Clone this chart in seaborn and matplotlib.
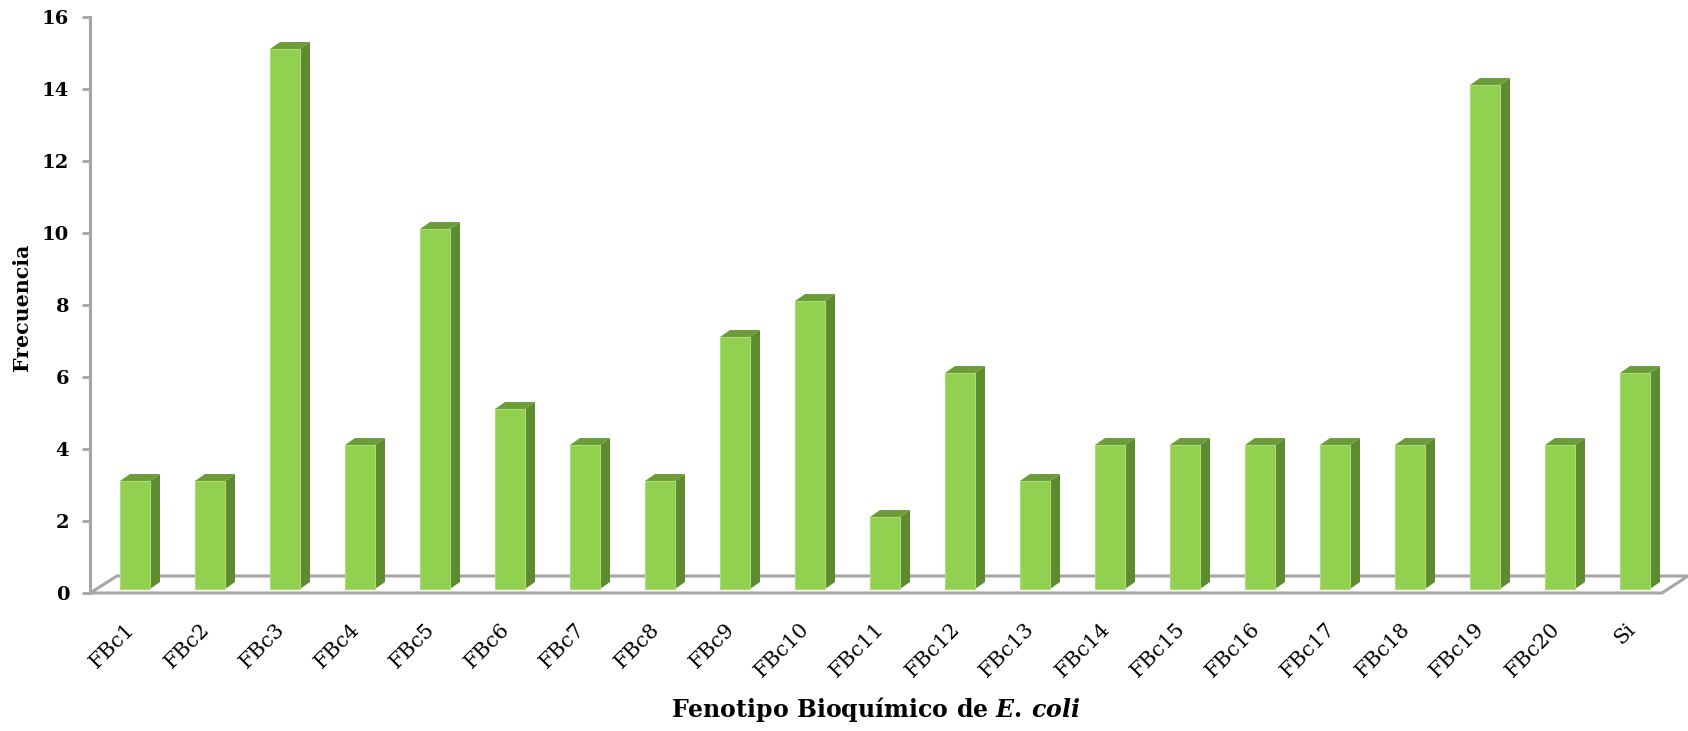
import numpy as np
import pandas as pd
import matplotlib
matplotlib.use("Agg")
import matplotlib.pyplot as plt
import seaborn as sns
from matplotlib.patches import Polygon
from matplotlib.transforms import ScaledTranslation

# Frequency of each biochemical phenotype
categories = ["FBc1", "FBc2", "FBc3", "FBc4", "FBc5", "FBc6", "FBc7", "FBc8",
              "FBc9", "FBc10", "FBc11", "FBc12", "FBc13", "FBc14", "FBc15",
              "FBc16", "FBc17", "FBc18", "FBc19", "FBc20", "Si"]
frecuencia = [3, 3, 15, 4, 10, 5, 4, 3, 7, 8, 2, 6, 3, 4, 4, 4, 4, 4, 14, 4, 6]
y_ticks = [0, 2, 4, 6, 8, 10, 12, 14, 16]

df = pd.DataFrame({"fenotipo": categories, "frecuencia": frecuencia})

sns.set_theme(style="white")
plt.rcParams["font.family"] = ["DejaVu Serif"]
plt.rcParams["text.color"] = "black"
plt.rcParams["mathtext.fontset"] = "custom"
plt.rcParams["mathtext.rm"] = "DejaVu Serif:bold"
plt.rcParams["mathtext.it"] = "DejaVu Serif:italic:bold"
plt.rcParams["mathtext.bf"] = "DejaVu Serif:bold"

W, H = 1688, 731
fig = plt.figure(figsize=(W / 100, H / 100), dpi=100)
ax = fig.add_axes([90 / W, 138 / H, 1572 / W, 576 / H])

FRONT = "#92D050"
SIDE = "#5E8B2F"
TOP = "#6C9C39"
GRID = "#A6A6A6"

bar_w = 0.4
sns.barplot(data=df, x="fenotipo", y="frecuencia", color=FRONT, width=bar_w,
            saturation=1, ax=ax, zorder=3, edgecolor="#A8DC74", linewidth=0.8)

ax.set_xlim(-0.6, 20.36)
ax.set_ylim(0, 16)

# depth of the pseudo-3D extrusion, in data units (10 px right, 7 px up)
dx = 10 / 75
dy = 7 / 36
lift = ScaledTranslation(0, 4 / 100, fig.dpi_scale_trans)

for p in ax.patches:
    p.set_transform(ax.transData + lift)
    x0 = p.get_x()
    x1 = x0 + p.get_width()
    h = p.get_height()
    side = Polygon([(x1, 0), (x1 + dx, dy), (x1 + dx, h + dy), (x1, h)],
                   closed=True, facecolor=SIDE, edgecolor="none",
                   transform=ax.transData + lift, zorder=2.9)
    top = Polygon([(x0, h), (x1, h), (x1 + dx, h + dy), (x0 + dx, h + dy)],
                  closed=True, facecolor=TOP, edgecolor="none",
                  transform=ax.transData + lift, zorder=2.9)
    ax.add_patch(side)
    ax.add_patch(top)

# floor of the chart
floor = Polygon([(0, 0), (27 / 1572, 17 / 576), (1598 / 1572, 17 / 576), (1, 0)],
                closed=True, facecolor="white", edgecolor=GRID, linewidth=2.2,
                transform=ax.transAxes, clip_on=False, zorder=1)
ax.add_patch(floor)

for s in ["top", "right", "bottom"]:
    ax.spines[s].set_visible(False)
ax.spines["left"].set_color(GRID)
ax.spines["left"].set_linewidth(2.2)

ax.set_yticks(y_ticks)
ax.set_yticklabels([str(v) for v in y_ticks], fontsize=14, fontweight="bold",
                   color="black")
ax.tick_params(axis="y", left=True, length=6, width=2, color=GRID, pad=9)
ax.tick_params(axis="x", bottom=False, length=0, pad=19)

ax.set_xticks(range(len(categories)))
ax.set_xticklabels(categories, rotation=45, ha="right", rotation_mode="anchor",
                   fontsize=15, color="black")
shift = ScaledTranslation(-10 / 100, 0, fig.dpi_scale_trans)
for lbl in ax.get_xticklabels():
    lbl.set_transform(lbl.get_transform() + shift)

ax.set_xlabel("")
ax.set_ylabel("")

fig.text(22 / W, 1 - 307 / H, "Frecuencia", rotation=90, ha="center",
         va="center", fontsize=14.8, fontweight="bold", color="black")
fig.text(876 / W, 1 - 710 / H,
         r"$\mathrm{Fenotipo\ Bioquímico\ de\ }\mathit{E.\,coli}$",
         ha="center", va="center", fontsize=17, color="black")

fig.savefig("out.png", dpi=100)
